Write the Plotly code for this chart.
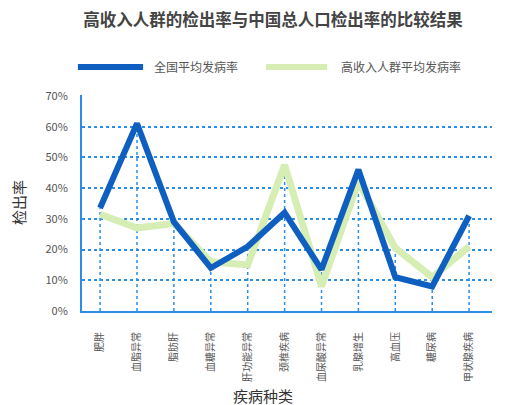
import plotly.graph_objects as go

categories = ["肥胖", "血脂异常", "脂肪肝", "血糖异常", "肝功能异常", "颈椎疾病",
              "血尿酸异常", "乳腺增生", "高血压", "糖尿病", "甲状腺疾病"]
national = [33.5, 61, 29, 14, 21, 32, 13.5, 46, 11, 8, 31]
high_income = [31.5, 27, 28.5, 16, 15, 47.5, 8, 42, 20.5, 11, 21]
y_ticks = [0, 10, 20, 30, 40, 50, 60, 70]

blue = "#0f5fc0"
green = "#d6eeb4"
grid = "#2a8ee6"
font = "Noto Sans CJK SC"

# vertical drop lines from the axis up to the higher of the two series
drop_x, drop_y = [], []
for c, a, b in zip(categories, national, high_income):
    drop_x += [c, c, None]
    drop_y += [0, max(a, b), None]

fig = go.Figure()
fig.add_trace(go.Scatter(x=drop_x, y=drop_y, mode="lines", showlegend=False,
                         line=dict(color=grid, width=1.5, dash="dot"), hoverinfo="skip"))
fig.add_trace(go.Scatter(x=categories, y=high_income, mode="lines", name="高收入人群平均发病率",
                         line=dict(color=green, width=7), showlegend=False))
fig.add_trace(go.Scatter(x=categories, y=national, mode="lines", name="全国平均发病率",
                         line=dict(color=blue, width=6), showlegend=False))

# legend drawn by hand so the swatches are long like the original
fig.add_shape(type="line", xref="paper", yref="paper", x0=-0.01, x1=0.149, y0=1.13, y1=1.13,
              line=dict(color=blue, width=6))
fig.add_shape(type="line", xref="paper", yref="paper", x0=0.449, x1=0.598, y0=1.13, y1=1.13,
              line=dict(color=green, width=6))
fig.add_annotation(text="全国平均发病率", xref="paper", yref="paper", x=0.171, y=1.13,
                   xanchor="left", yanchor="middle", showarrow=False,
                   font=dict(family=font, size=12, color="#555"))
fig.add_annotation(text="高收入人群平均发病率", xref="paper", yref="paper", x=0.627, y=1.13,
                   xanchor="left", yanchor="middle", showarrow=False,
                   font=dict(family=font, size=12, color="#555"))

# axis titles
fig.add_annotation(text="疾病种类", xref="paper", yref="paper", x=0.441, y=-0.389,
                   xanchor="center", yanchor="middle", showarrow=False,
                   font=dict(family=font, size=15, color="#333"))
fig.add_annotation(text="检出率", xref="paper", yref="paper", x=-0.156, y=0.5, textangle=-90,
                   xanchor="center", yanchor="middle", showarrow=False,
                   font=dict(family=font, size=15, color="#333"))

# the page has an 8px body margin, so the figure is a little smaller than the window
fig.update_layout(
    width=499, height=397,
    margin=dict(l=74, r=15, t=87, b=94),
    paper_bgcolor="white", plot_bgcolor="white",
    title=dict(text="<b>高收入人群的检出率与中国总人口检出率的比较结果</b>", x=0.531, xanchor="center",
               y=0.97, yanchor="middle", font=dict(family=font, size=16.5, color="#444")),
    font=dict(family=font, color="#555"),
)
fig.update_xaxes(range=[-0.49, 10.62], showgrid=False, tickangle=-90, automargin=False,
                 showline=True, linecolor=grid, linewidth=2, ticks="", ticklabelstandoff=15,
                 tickfont=dict(size=10, color="#555"))
fig.update_yaxes(range=[0, 70.3], tickvals=y_ticks, ticktext=[f"{v}%" for v in y_ticks],
                 showgrid=True, gridcolor=grid, griddash="dot", gridwidth=1.5, automargin=False,
                 showline=True, linecolor=grid, linewidth=2, zeroline=False, ticklabelstandoff=10,
                 tickfont=dict(size=11, color="#555"))

fig.write_html("out.html")
